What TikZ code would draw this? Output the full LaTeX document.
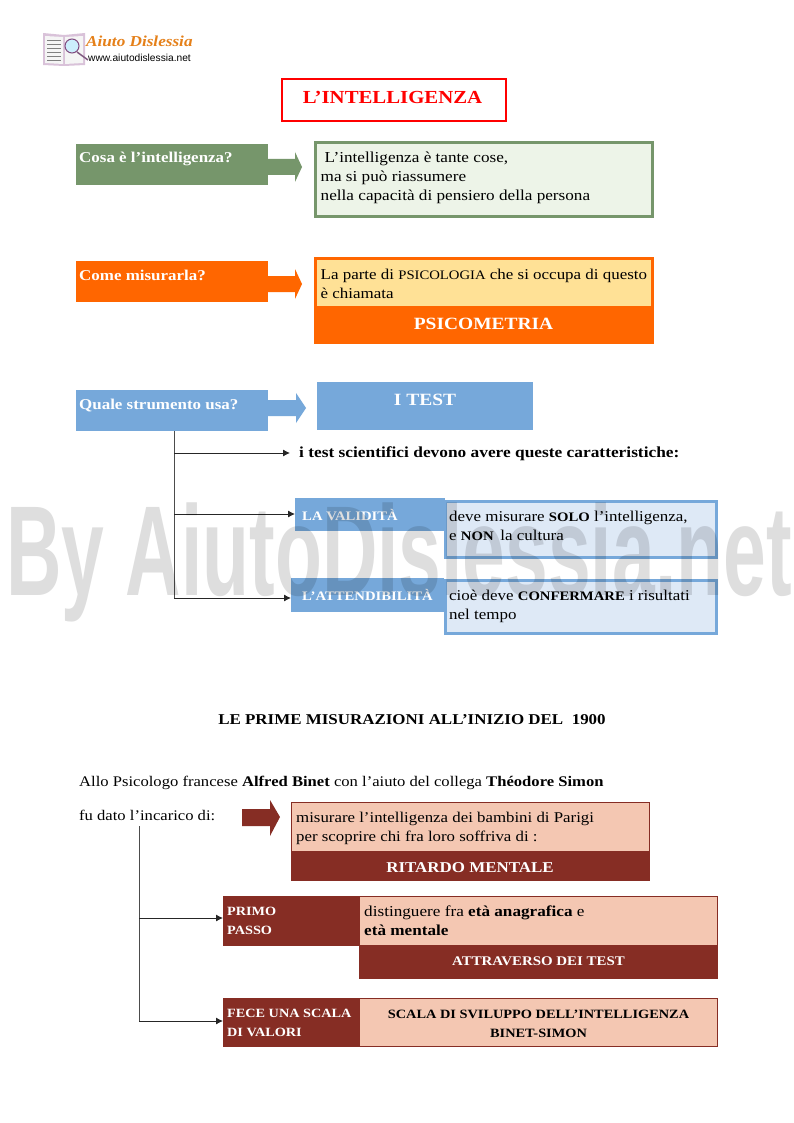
\documentclass[tikz,border=0pt]{standalone}
\usepackage{fontspec}
\setmainfont[FakeStretch=1.13]{Liberation Serif}
\newfontfamily\wmfont[FakeStretch=0.6]{Liberation Sans}
\newfontfamily\logosans{Liberation Sans}
\newcommand\cpb[1]{{\fontsize{13}{19}\selectfont\bfseries #1}}
\newcommand\cpr[1]{{\fontsize{13}{19}\selectfont #1}}
\definecolor{grn}{HTML}{76966B}
\definecolor{grnl}{HTML}{EDF4E8}
\definecolor{org}{HTML}{FF6600}
\definecolor{yel}{HTML}{FFE196}
\definecolor{blu}{HTML}{76A8DA}
\definecolor{blul}{HTML}{DEE9F6}
\definecolor{brn}{HTML}{862D24}
\definecolor{pch}{HTML}{F4C7B2}
\usetikzlibrary{arrows.meta}
\tikzset{
 x=1pt,y=-1pt,
 txt/.style={anchor=base west,inner sep=0pt,font=\fontsize{15}{19}\selectfont,align=left},
 wtxt/.style={txt,text=white,font=\fontsize{15}{19}\selectfont\bfseries},
 capw/.style={txt,text=white,font=\fontsize{12.6}{19}\selectfont\bfseries},
 big/.style={anchor=base,inner sep=0pt,text=white,font=\fontsize{17.2}{24}\selectfont\bfseries},
 conn/.style={draw=black!85,line width=.9pt,-{Latex[length=7pt,width=7pt]}},
 trunk/.style={line width=.9pt,black!70},
}
\begin{document}
\begin{tikzpicture}
\useasboundingbox (0,0) rectangle (793,1123);
\fill[white] (0,0) rectangle (793,1123);
% logo
\fill[gray!40!violet!30] (43,33) -- (64,35) -- (85,33) -- (85,65) -- (64,66) -- (43,65) -- cycle;
\fill[white!92!gray] (45,36) -- (63,37) -- (63,64) -- (45,63) -- cycle;
\fill[white!92!gray] (65,37) -- (83,36) -- (83,63) -- (65,64) -- cycle;
\foreach \yy in {40,44,...,60}{\draw[gray,line width=.7pt] (47,\yy) -- (61,\yy);}
\draw[gray!70!violet,line width=1.5pt] (77,52) -- (88,60);
\draw[gray!60!violet,fill=cyan!20,line width=1pt] (72,46) circle (7);
\node[anchor=base west,inner sep=0pt,text=orange!60!brown,font=\fontsize{15.2}{15}\selectfont\bfseries\itshape] (logoa) at (86,47) {Aiuto Dislessia};
\node[anchor=base west,inner sep=0pt,font=\logosans\fontsize{10.2}{10}\selectfont] (logob) at (88,62) {www.aiutodislessia.net};
% title
\node[draw=red,line width=2pt,minimum width=224pt,minimum height=42pt,anchor=north west,inner sep=0pt] (title) at (281,78) {};
\node[anchor=base,inner sep=0pt,text=red,font=\fontsize{18.4}{26}\selectfont\bfseries] (titlet) at (392.5,104) {L’INTELLIGENZA};
% row 1
\fill[grn] (76,144) rectangle (268,185);
\fill[grn] (268,159) -- (295,159) -- (295,152) -- (302,167) -- (295,182) -- (295,175) -- (268,175) -- cycle;
\node[wtxt] (q1t) at (79,163) {Cosa è l’intelligenza?};
\draw[draw=grn,line width=3pt,fill=grnl] (315.5,142.5) rectangle (652,217);
\node[txt,font=\fontsize{15.2}{19}\selectfont] (a1t) at (320.5,201) {\hspace*{4pt}L’intelligenza è tante cose,\\ma si può riassumere\\nella capacità di pensiero della persona};
% row 2
\fill[org] (76,261) rectangle (268,302);
\fill[org] (268,276) -- (295,276) -- (295,269) -- (302,284) -- (295,299) -- (295,292) -- (268,292) -- cycle;
\node[wtxt] (q2t) at (79,280) {Come misurarla?};
\draw[draw=org,line width=3pt,fill=yel] (315.5,258.5) rectangle (652,307);
\fill[org] (314,306) rectangle (654,344);
\node[txt] (a2t) at (320.5,298) {La parte di \cpr{PSICOLOGIA} che si occupa di questo\\è chiamata};
\node[big] (a2b) at (483.5,329) {PSICOMETRIA};
% row 3
\node[fill=blu,minimum width=192pt,minimum height=41pt,anchor=north west,inner sep=0pt] (q3) at (76,390) {};
\fill[blu] (268,400) -- (296,400) -- (296,393) -- (306,408) -- (296,423) -- (296,416) -- (268,416) -- cycle;
\node[wtxt] (q3t) at (79,409) {Quale strumento usa?};
\fill[blu] (317,382) rectangle (533,430);
\node[big] (a3b) at (425,405) {I TEST};
\node[anchor=base west,inner sep=0pt,font=\fontsize{15.35}{19}\selectfont\bfseries] (car) at (299,457) {i test scientifici devono avere queste caratteristiche:};
% validita
\node[fill=blu,minimum width=150pt,minimum height=33pt,anchor=north west,inner sep=0pt] (lav) at (295,498) {};
\node[capw,font=\fontsize{13}{19}\selectfont\bfseries] (lavt) at (302,520) {LA VALIDITÀ};
\draw[draw=blu,line width=3pt,fill=blul] (445.5,501) rectangle (716,557);
\node[txt] (lavd) at (449,540) {deve misurare \cpb{SOLO} l’intelligenza,\\e \cpb{NON}\, la cultura};
\node[fill=blu,minimum width=153pt,minimum height=34pt,anchor=north west,inner sep=0pt] (att) at (291,578) {};
\node[capw,font=\fontsize{13}{19}\selectfont\bfseries] (attt) at (302,600) {L’ATTENDIBILITÀ};
\draw[draw=blu,line width=3pt,fill=blul] (445.5,580) rectangle (716,633);
\node[txt] (attd) at (449,619) {cioè deve \cpb{CONFERMARE} i risultati\\nel tempo};
% trunk 1
\coordinate (tr1) at (174,453);
\coordinate (e1) at (290,453);
\draw[trunk] (q3.south -| tr1) -- (174,598);
\draw[conn] (tr1) -- (e1);
\draw[conn] (174,514) -- (lav.west |- 0,514);
\draw[conn] (174,598) -- (att.west |- 0,598);
% heading
\node[anchor=base,inner sep=0pt,font=\fontsize{15}{19}\selectfont\bfseries] (head) at (412,724) {LE PRIME MISURAZIONI ALL’INIZIO DEL\ \ 1900};
\node[txt,font=\fontsize{14.7}{19}\selectfont] (allo) at (79,786) {Allo Psicologo francese \textbf{Alfred Binet} con l’aiuto del collega \textbf{Théodore Simon}};
\node[txt,font=\fontsize{14.7}{19}\selectfont] (fu) at (79,820) {fu dato l’incarico di:};
\fill[brn] (242,809) -- (270,809) -- (270,800) -- (280,817) -- (270,836) -- (270,826) -- (242,826) -- cycle;
\draw[draw=brn,line width=.8pt,fill=pch] (291.5,802) rectangle (649.5,851);
\fill[brn] (291,851) rectangle (650,881);
\node[txt,font=\fontsize{14.9}{19}\selectfont] (mis) at (296,841) {misurare l’intelligenza dei bambini di Parigi\\per scoprire chi fra loro soffriva di :};
\node[anchor=base,inner sep=0pt,text=white,font=\fontsize{15}{19}\selectfont\bfseries] (rit) at (470,872) {RITARDO MENTALE};
% primo
\node[fill=brn,minimum width=136pt,minimum height=50pt,anchor=north west,inner sep=0pt] (pp) at (223,896) {};
\node[capw] (ppt) at (227,934) {PRIMO\\PASSO};
\draw[draw=brn,line width=.8pt,fill=pch] (359.5,896.5) rectangle (717.5,945);
\fill[brn] (359,945) rectangle (718,979);
\node[txt,font=\fontsize{15.2}{19}\selectfont] (dis) at (364,935) {distinguere fra \textbf{età anagrafica} e\\\textbf{età mentale}};
\node[anchor=base,inner sep=0pt,text=white,font=\fontsize{13.2}{19}\selectfont\bfseries] (att2) at (538.5,965) {ATTRAVERSO DEI TEST};
% fece
\node[fill=brn,minimum width=136pt,minimum height=49pt,anchor=north west,inner sep=0pt] (fe) at (223,998) {};
\node[capw] (fet) at (227,1036) {FECE UNA SCALA\\DI VALORI};
\draw[draw=brn,line width=.8pt,fill=pch] (359.5,998.5) rectangle (717.5,1046.5);
\node[anchor=base,inner sep=0pt,align=center,font=\fontsize{12.7}{19}\selectfont\bfseries] (sc) at (538.5,1037) {SCALA DI SVILUPPO DELL’INTELLIGENZA\\BINET-SIMON};
% trunk 2
\coordinate (tr2) at (139,826);
\draw[trunk] (tr2) -- (139,1021);
\draw[conn] (139,918) -- (pp.west |- 0,918);
\draw[conn] (139,1021) -- (fe.west |- 0,1021);
% watermark
\begin{scope}[blend mode=multiply]
\node[anchor=base,inner sep=0pt,text=black!13,font=\wmfont\fontsize{128}{128}\selectfont\bfseries] (wm) at (399,595) {By AiutoDislessia.net};
\end{scope}
\end{tikzpicture}
\end{document}
